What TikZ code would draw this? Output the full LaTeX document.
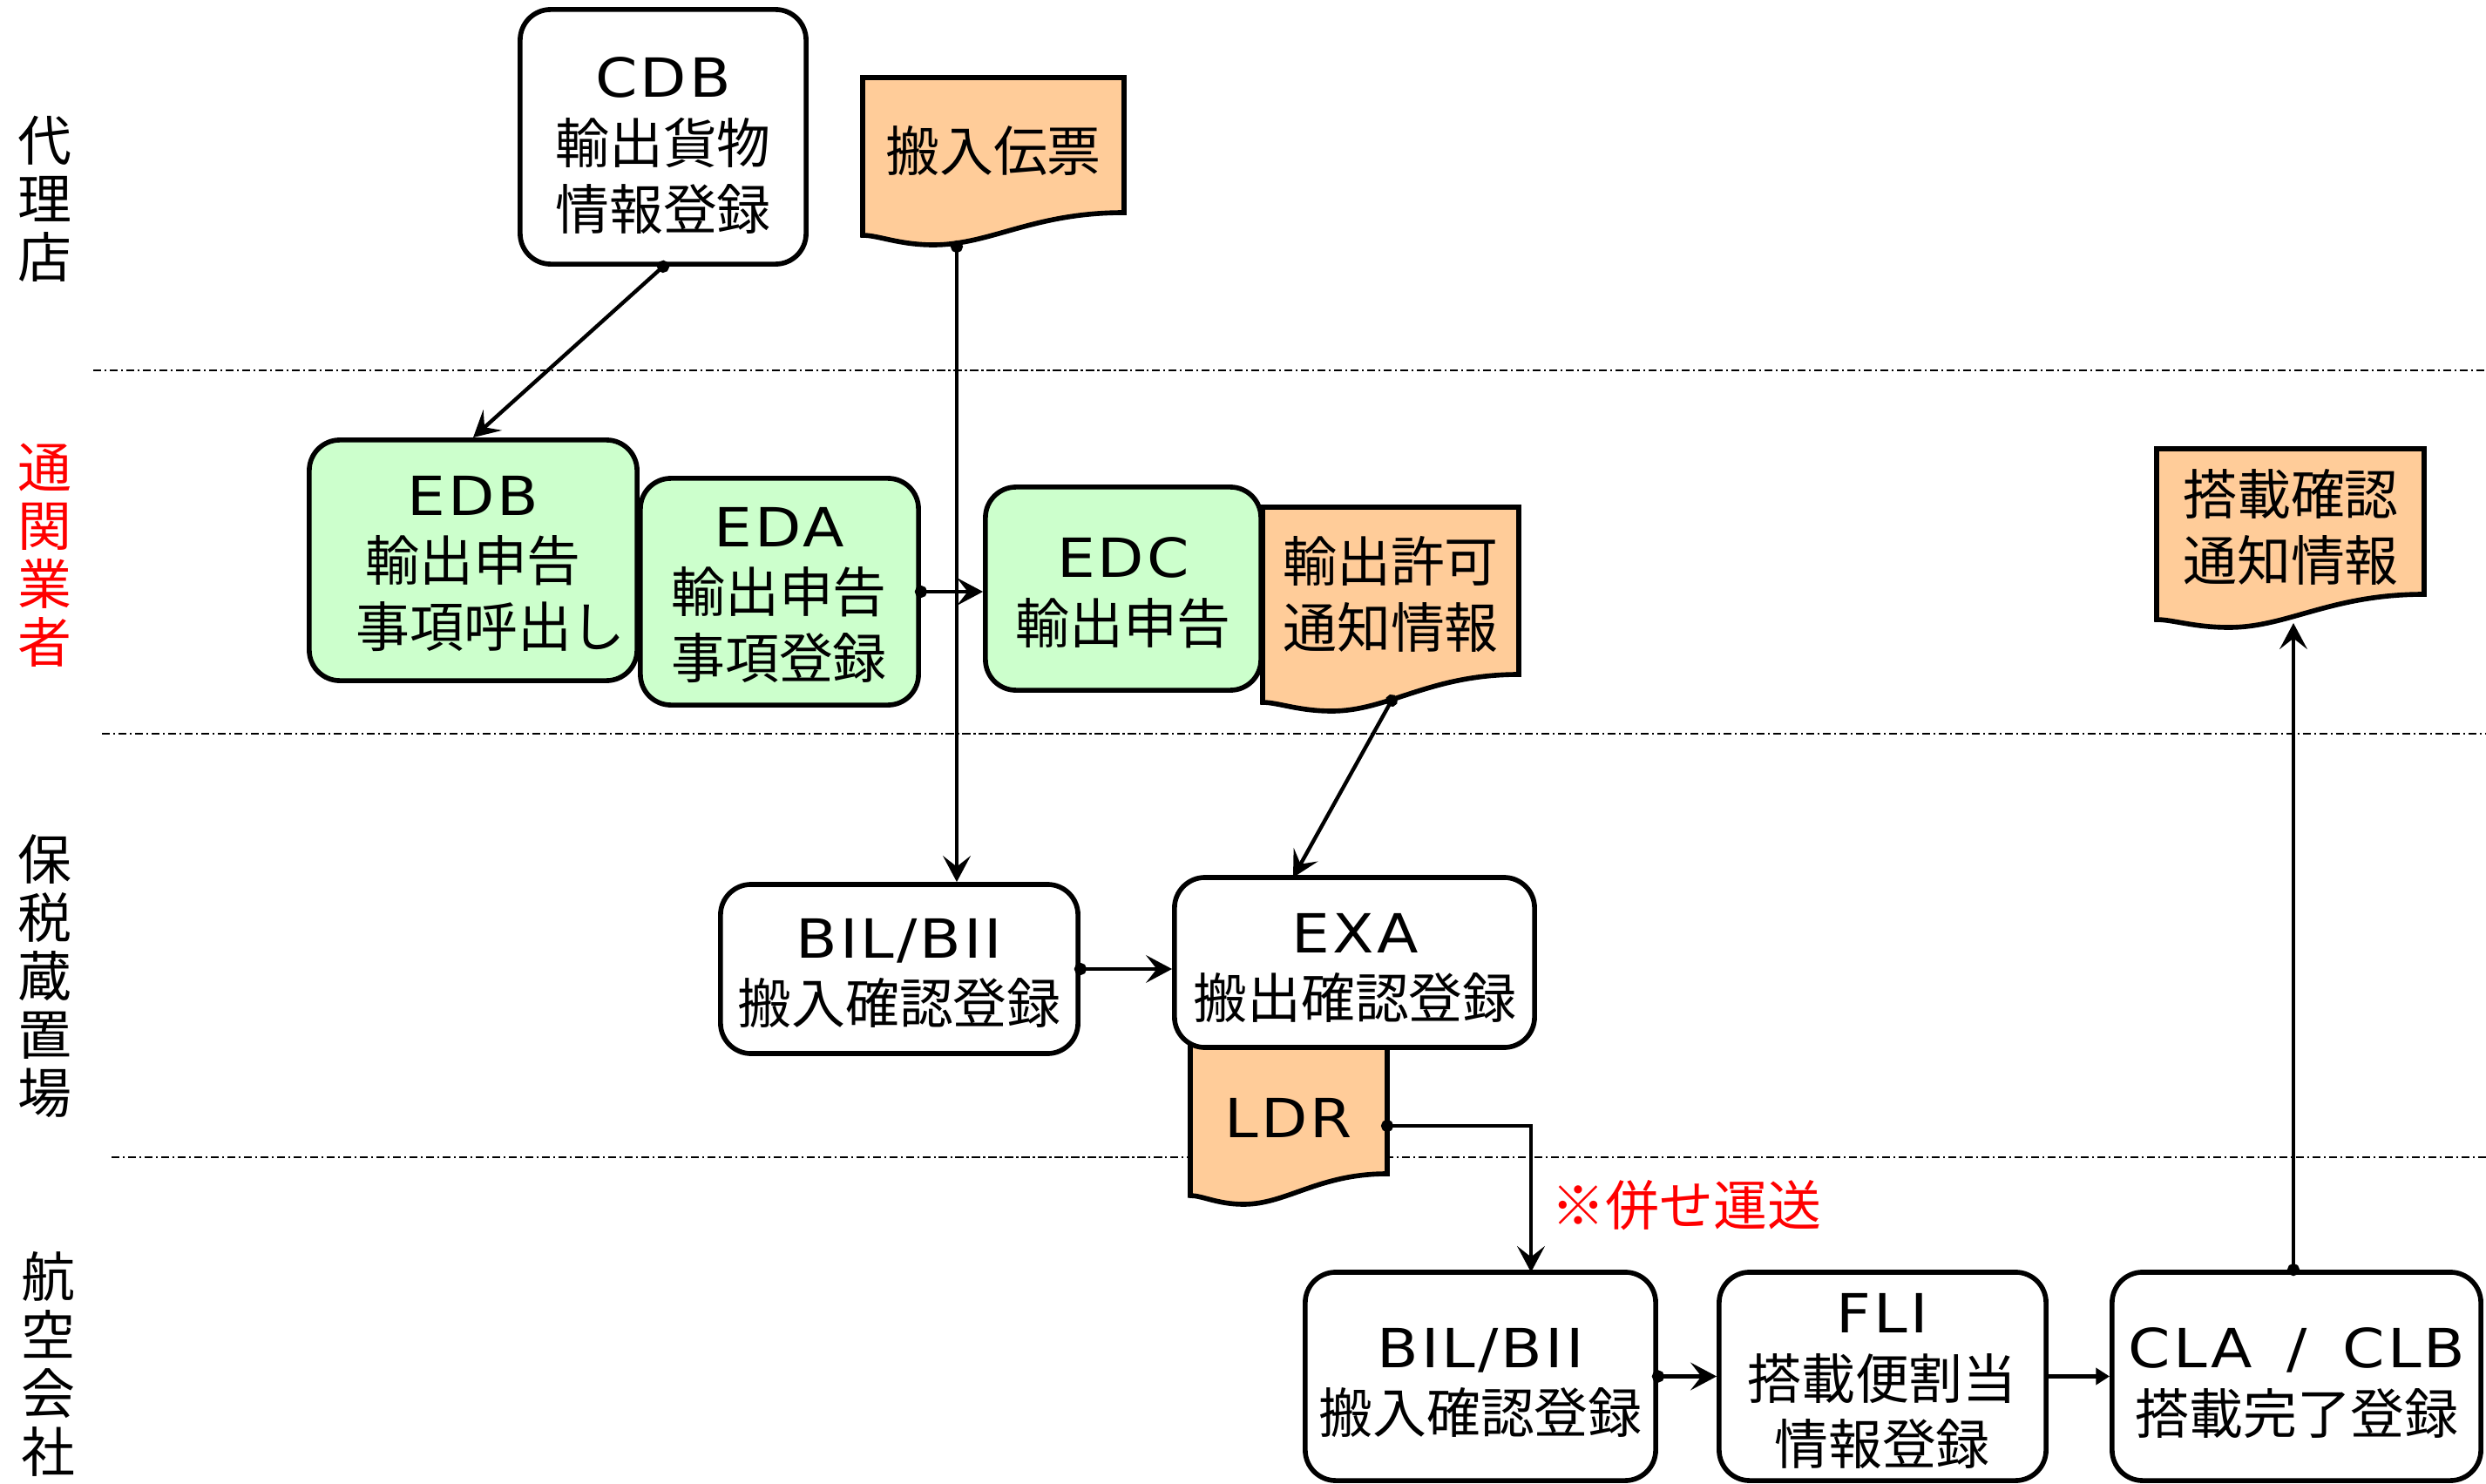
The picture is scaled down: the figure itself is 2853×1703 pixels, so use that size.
\documentclass[tikz,border=0pt]{standalone}
\usepackage{fontspec}
\usetikzlibrary{arrows.meta}
\setmainfont{Noto Sans CJK JP}
\newfontfamily\latf{DejaVu Sans}[FakeStretch=1.12,LetterSpace=5]

\definecolor{boxgreen}{HTML}{CCFFCC}
\definecolor{docpeach}{HTML}{FFCC99}
\definecolor{lanered}{HTML}{FF0000}

% document symbol with a wavy lower edge: x1, top, x2, right end of wave, left drop, lowest drop, fill
\newcommand\docshape[7]{%
  \pgfmathsetmacro\docW{#3-#1}%
  \pgfmathsetmacro\docXm{#1+0.27*\docW}%
  \pgfmathsetmacro\docYm{#4+#6}%
  \pgfmathsetmacro\docYl{#4+#5}%
  \pgfmathsetmacro\docCa{#3-0.35*\docW}%
  \pgfmathsetmacro\docCb{\docXm+0.22*\docW}%
  \pgfmathsetmacro\docCc{\docXm-0.13*\docW}%
  \pgfmathsetmacro\docCd{#1+0.06*\docW}%
  \draw[docline,fill=#7] (#1,#2) -- (#3,#2) -- (#3,#4)
    .. controls (\docCa,#4) and (\docCb,\docYm) .. (\docXm,\docYm)
    .. controls (\docCc,\docYm) and (\docCd,\docYl) .. (#1,\docYl) -- cycle;
}

\begin{document}
\begin{tikzpicture}[x=0.01cm,y=-0.01cm,
  font=\fontsize{17.6}{21.6}\selectfont,
  lanesep/.style={draw=black,line width=0.5pt,dash pattern=on 2.6pt off 1.1pt on 0.6pt off 1.1pt},
  lanelabel/.style={align=center,inner sep=0pt,font=\fontsize{17.6}{19.06}\selectfont},
  procbox/.style={draw=black,line width=1.6pt,rounded corners=0.35cm,fill=white,inner sep=0pt},
  declbox/.style={procbox,fill=boxgreen},
  docframe/.style={inner sep=0pt},
  docline/.style={draw=black,line width=1.6pt},
  lbl/.style={align=center,inner sep=0pt},
  flow/.style={draw=black,line width=1.25pt,shorten <=-2pt,
    arrows={Circle[length=4pt]-Stealth[length=8.5pt,width=9pt,inset=3.5pt]}},
  flowthick/.style={flow,line width=1.5pt},
  flowplain/.style={draw=black,line width=1.7pt,-{Triangle[length=4.5pt,width=5.4pt]}}
]
% canvas
\fill[white] (0,0) rectangle (2853,1703);
\useasboundingbox (0,0) rectangle (2853,1703);

% lane separators
\coordinate (sepA) at (107,425);
\coordinate (sepAe) at (2853,425);
\coordinate (sepB) at (117,842);
\coordinate (sepBe) at (2853,842);
\coordinate (sepC) at (128,1328);
\coordinate (sepCe) at (2853,1328);
\draw[lanesep] (sepA) -- (sepAe);
\draw[lanesep] (sepB) -- (sepBe);
\draw[lanesep] (sepC) -- (sepCe);

% lane titles
\node[lanelabel] (laneA) at (51,228) {代\\理\\店};
\node[lanelabel,text=lanered] (laneB) at (51,637) {通\\関\\業\\者};
\node[lanelabel] (laneC) at (51,1120) {保\\税\\蔵\\置\\場};
\node[lanelabel] (laneD) at (55,1565) {航\\空\\会\\社};

% paper documents
\node[docframe,minimum width=3.00cm,minimum height=1.55cm] (den) at (1140,166.5) {};
\docshape{990}{89}{1290}{244}{26}{37}{docpeach}
\node[lbl] (dent) at (1140,173) {搬入伝票};

\node[docframe,minimum width=2.94cm,minimum height=1.92cm] (kyoka) at (1596,678) {};
\docshape{1449}{582}{1743}{774}{32}{42}{docpeach}
\node[lbl] (kyokat) at (1596,682) {輸出許可\\通知情報};

\node[docframe,minimum width=3.07cm,minimum height=1.67cm] (tosai) at (2628.5,598.5) {};
\docshape{2475}{515}{2782}{682}{29}{38}{docpeach}
\node[lbl] (tosait) at (2629,605) {搭載確認\\通知情報};

\node[docframe,minimum width=2.26cm,minimum height=1.52cm] (ldr) at (1479,1271) {};
\docshape{1366}{1195}{1592}{1347}{25}{35}{docpeach}
\node[lbl] (ldrt) at (1479,1283) {{\latf LDR}};

% process boxes
\node[procbox,minimum width=3.28cm,minimum height=2.92cm] (cdb) at (761,157) {};
\node[lbl] (cdbt) at (761,167) {{\latf CDB}\\輸出貨物\\情報登録};

\node[declbox,minimum width=3.76cm,minimum height=2.76cm] (edb) at (543,643) {};
\node[lbl] (edbt) at (543,647) {{\latf EDB}\\輸出申告\\\hspace*{0.65em}事項呼出し};

\node[declbox,minimum width=3.19cm,minimum height=2.60cm] (eda) at (894.5,679) {};
\node[lbl] (edat) at (894,683) {{\latf EDA}\\輸出申告\\事項登録};

\node[declbox,minimum width=3.16cm,minimum height=2.33cm] (edc) at (1289,675.5) {};
\node[lbl] (edct) at (1289,680) {{\latf EDC}\\輸出申告};

\node[procbox,minimum width=4.10cm,minimum height=1.94cm] (bil1) at (1032,1112) {};
\node[lbl] (bil1t) at (1032,1117) {{\latf BIL/BII}\\搬入確認登録};

\node[procbox,minimum width=4.13cm,minimum height=1.95cm] (exa) at (1554.5,1104.5) {};
\node[lbl] (exat) at (1555,1111) {{\latf EXA}\\搬出確認登録};

\node[procbox,minimum width=4.02cm,minimum height=2.39cm] (bil2) at (1699,1579.5) {};
\node[lbl] (bil2t) at (1699,1587) {{\latf BIL/BII}\\搬入確認登録};

\node[procbox,minimum width=3.75cm,minimum height=2.39cm] (fli) at (2160.5,1579.5) {};
\node[lbl] (flit) at (2160,1585) {{\latf FLI}\\搭載便割当\\情報登録};

\node[procbox,minimum width=4.23cm,minimum height=2.39cm] (cla) at (2635.5,1579.5) {};
\node[lbl] (clat) at (2636,1587) {{\latf CLA\hspace{0.65em}/\hspace{0.65em}CLB}\\搭載完了登録};

% note on the consolidated shipment
\node[lbl,anchor=west,text=lanered] (gassou) at (1780,1383) {※併せ運送};

% connector end points on the documents
\coordinate (denout) at (1098,283);
\coordinate (kyokaout) at (1597,804);
\coordinate (ldrout) at (1592,1292);
\coordinate (tosaiin) at (2632,715);
\coordinate (exain) at (1484,1007);
\coordinate (bil2in) at (1757,1460);

% flows
\draw[flow] (cdb.south) -- (edb.north);
\draw[flow] (denout) -- (denout |- bil1.north);
\draw[flow] (eda.east) -- (eda.east -| edc.west);
\draw[flow] (kyokaout) -- (exain);
\draw[flow] (bil1.east) -- (bil1.east -| exa.west);
\draw[flow] (ldrout) -| (bil2in);
\draw[flowthick] (bil2.east) -- (fli.west);
\draw[flowplain] (fli.east) -- (cla.west);
\draw[flow] (cla.north -| tosaiin) -- (tosaiin);
\end{tikzpicture}
\end{document}
